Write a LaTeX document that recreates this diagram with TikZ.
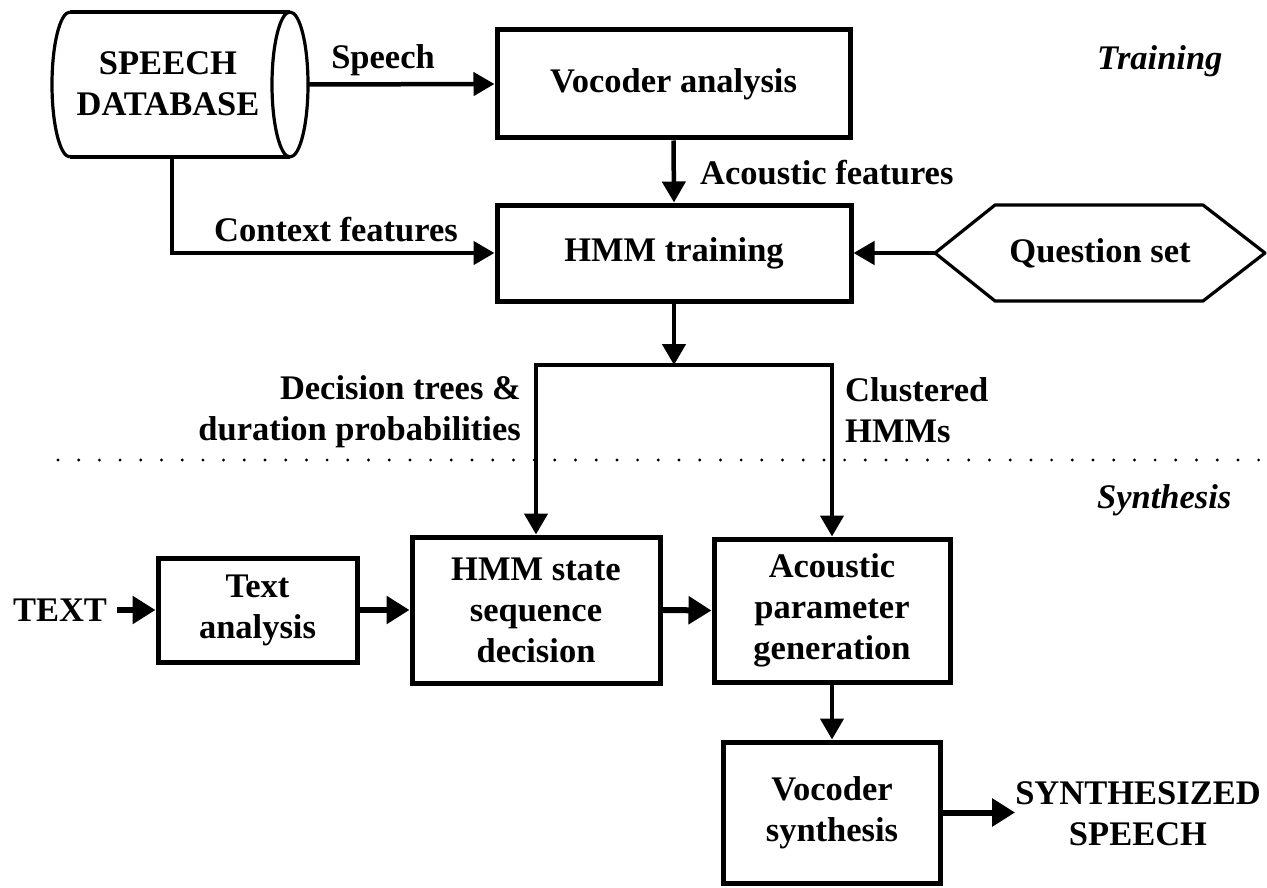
\documentclass[tikz,border=0pt]{standalone}
\usepackage{fontspec}
\setmainfont{Liberation Serif}
\usetikzlibrary{arrows.meta}
\begin{document}
\begin{tikzpicture}[x=1pt,y=-1pt,
  every node/.style={font=\bfseries\fontsize{34.5}{41}\selectfont, inner sep=0pt, align=center},
  block/.style={draw, line width=5pt, rectangle},
  outline/.style={line width=3.2pt, line join=round},
  arrow/.style={line width=4.5pt, -{Triangle[length=21pt,width=23pt]}},
  heavyarrow/.style={line width=6pt, -{Triangle[length=23pt,width=27pt]}},
  phase/.style={font=\bfseries\itshape\fontsize{34.5}{41}\selectfont, anchor=west}
]
% page
\fill[white] (0,0) rectangle (1267,888);
\useasboundingbox (0,0) rectangle (1267,888);

% speech database (horizontal cylinder)
\draw[outline] (70,12) -- (290,12);
\draw[outline] (70,157) -- (290,157);
\draw[outline] (70,12) arc[start angle=90, end angle=270, x radius=18pt, y radius=72.5pt];
\draw[outline] (290,84.5) ellipse[x radius=18pt, y radius=72.5pt];
\node[minimum width=256pt, minimum height=145pt] (db) at (180,84.5) {};
\node (dbtxt) at (168,84) {SPEECH\\DATABASE};
\coordinate (dbfoot) at (172,157);

% question set (hexagon)
\draw[outline] (935,253) -- (995,205) -- (1203,205) -- (1265,253) -- (1203,301) -- (995,301) -- cycle;
\node[minimum width=330pt, minimum height=96pt] (qs) at (1100,253) {Question set};

% training blocks
\node[block, minimum width=353pt, minimum height=108pt] (va) at (673.5,84) {Vocoder analysis};
\node[block, minimum width=354pt, minimum height=96pt] (hmm) at (674,253) {HMM training};

% synthesis blocks
\node (txt) at (60,610) {TEXT};
\node[block, minimum width=199pt, minimum height=104pt] (ta) at (257.5,610) {Text\\analysis};
\node[block, minimum width=248pt, minimum height=146pt] (hs) at (536,610) {HMM state\\sequence\\decision};
\node[block, minimum width=236pt, minimum height=143pt] (ap) at (832,610.5) {Acoustic\\parameter\\generation};
\node[block, minimum width=217pt, minimum height=141pt] (vs) at (832,812.5) {Vocoder\\synthesis};
\node (out) at (1138,814) {SYNTHESIZED\\SPEECH};

% connector labels
\node (lspeech) at (383,60) {Speech};
\node[anchor=west] (lacou) at (700,173) {Acoustic features};
\node (lctx) at (336,230) {Context features};
\node[anchor=east, align=right] (ltree) at (521,412) {Decision trees \&\\duration probabilities};
\node[anchor=west, align=left] (lclus) at (845,410) {Clustered\\HMMs};

% phase titles
\node[phase] (ttrain) at (1097,61) {Training};
\node[phase] (tsynth) at (1097,500) {Synthesis};

% separator between training and synthesis
\draw[line width=3.2pt, line cap=round, dash pattern=on 0pt off 20.7pt] (58,460) -- (1262,460);

% training connectors
\draw[arrow] (db.east) -- (va.west);
\draw[arrow] (va.south) -- (hmm.north);
\draw[arrow] (dbfoot) |- (hmm.west);
\draw[arrow] (qs.west) -- (hmm.east);
\coordinate (split) at (674,365);
\draw[arrow] (hmm.south) -- (split);
\draw[arrow] (split) -| (hs.north);
\draw[arrow] (split) -| (ap.north);

% synthesis connectors
\draw[heavyarrow] (txt.east) ++(10,0) -- (ta.west);
\draw[heavyarrow] (ta.east) -- (hs.west);
\draw[heavyarrow] (hs.east) -- (ap.west);
\draw[arrow] (ap.south) -- (vs.north);
\draw[heavyarrow] (vs.east) -- (vs.east -| out.west);
\end{tikzpicture}
\end{document}
